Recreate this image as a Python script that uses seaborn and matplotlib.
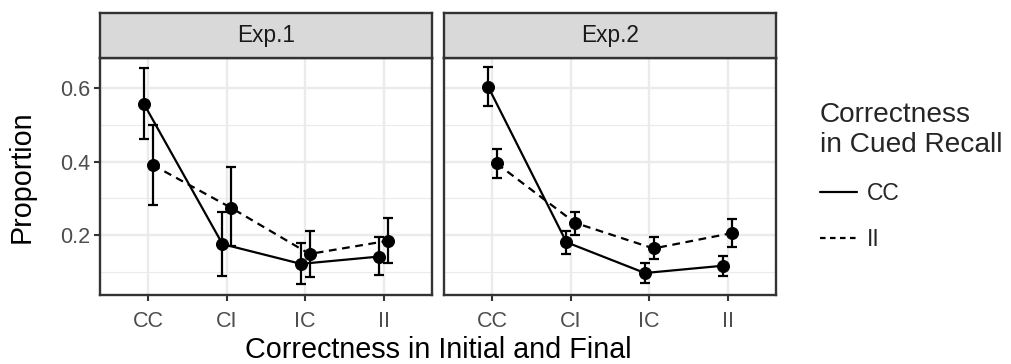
import numpy as np
import pandas as pd
import matplotlib
matplotlib.use("Agg")
import matplotlib.pyplot as plt
import seaborn as sns
from matplotlib.lines import Line2D

# ---------------- data ----------------
categories = ["CC", "CI", "IC", "II"]
experiments = ["Exp.1", "Exp.2"]
cued_levels = ["CC", "II"]

exp1_cc_mean = [0.557, 0.175, 0.121, 0.141]
exp1_cc_lo = [0.461, 0.088, 0.067, 0.090]
exp1_cc_hi = [0.656, 0.262, 0.179, 0.193]
exp1_ii_mean = [0.391, 0.274, 0.148, 0.184]
exp1_ii_lo = [0.282, 0.171, 0.084, 0.123]
exp1_ii_hi = [0.499, 0.386, 0.211, 0.245]

exp2_cc_mean = [0.605, 0.180, 0.096, 0.116]
exp2_cc_lo = [0.552, 0.148, 0.068, 0.088]
exp2_cc_hi = [0.658, 0.210, 0.122, 0.143]
exp2_ii_mean = [0.395, 0.233, 0.163, 0.205]
exp2_ii_lo = [0.356, 0.201, 0.134, 0.167]
exp2_ii_hi = [0.434, 0.263, 0.193, 0.243]

series = {
    ("Exp.1", "CC"): (exp1_cc_mean, exp1_cc_lo, exp1_cc_hi),
    ("Exp.1", "II"): (exp1_ii_mean, exp1_ii_lo, exp1_ii_hi),
    ("Exp.2", "CC"): (exp2_cc_mean, exp2_cc_lo, exp2_cc_hi),
    ("Exp.2", "II"): (exp2_ii_mean, exp2_ii_lo, exp2_ii_hi),
}

DODGE = 0.055
rows = []
for (exp, cued), (m, lo, hi) in series.items():
    off = -DODGE if cued == "CC" else DODGE
    for i, cat in enumerate(categories):
        rows.append(dict(exp=exp, cued=cued, final=cat, xpos=i + off,
                         prop=m[i], lo=lo[i], hi=hi[i]))
df = pd.DataFrame(rows)

# ---------------- style ----------------
sns.set_theme(style="white")
plt.rcParams["font.family"] = ["Liberation Sans", "DejaVu Sans"]

W, H = 1011, 364
fig = plt.figure(figsize=(W / 100, H / 100), dpi=100)

GRID = "#EBEBEB"
DARK = "#333333"
LW = 1.6

panel_left = [100, 444]
panel_w = 332
panel_top, panel_bot = 58, 295
strip_top = 13

for k, exp in enumerate(experiments):
    ax = fig.add_axes([panel_left[k] / W, (H - panel_bot) / H,
                       panel_w / W, (panel_bot - panel_top) / H])
    sub = df[df.exp == exp]
    for cued in cued_levels:
        s = sub[sub.cued == cued]
        ax.errorbar(s.xpos, s.prop, yerr=[s.prop - s.lo, s.hi - s.prop],
                    fmt="none", ecolor="black", elinewidth=LW,
                    capsize=3.6, capthick=LW, zorder=3)
    sns.lineplot(data=sub, x="xpos", y="prop", style="cued",
                 style_order=cued_levels,
                 dashes={"CC": "", "II": (3.5, 2.5)},
                 markers={"CC": "o", "II": "o"},
                 color="black", linewidth=LW, markersize=8.6,
                 markeredgecolor="black", errorbar=None, legend=False,
                 ax=ax, zorder=4)

    ax.set_xlim(-0.617, 3.617)
    ax.set_ylim(0.036, 0.683)
    ax.set_xticks(range(len(categories)))
    ax.set_xticklabels(categories)
    ax.set_yticks([0.2, 0.4, 0.6])
    ax.set_yticks([0.1, 0.3, 0.5], minor=True)
    ax.set_yticklabels(["0.2", "0.4", "0.6"])
    ax.set_xlabel("")
    ax.set_ylabel("")
    ax.grid(True, which="major", color=GRID, linewidth=1.7)
    ax.grid(True, which="minor", axis="y", color=GRID, linewidth=0.85)
    ax.set_axisbelow(True)
    ax.tick_params(axis="both", which="major", length=4, width=1.5,
                   color=DARK, labelcolor="#4D4D4D", labelsize=15.5,
                   bottom=True, left=True, pad=3)
    ax.tick_params(axis="x", pad=7.5)
    ax.tick_params(axis="y", which="minor", length=0)
    for sp in ax.spines.values():
        sp.set_color(DARK)
        sp.set_linewidth(1.7)
    if k == 1:
        ax.tick_params(axis="y", left=False, labelleft=False)

    # strip
    sax = fig.add_axes([panel_left[k] / W, (H - panel_top) / H,
                        panel_w / W, (panel_top - strip_top) / H])
    sax.set_facecolor("#D9D9D9")
    sax.set_xticks([])
    sax.set_yticks([])
    for sp in sax.spines.values():
        sp.set_color(DARK)
        sp.set_linewidth(1.7)
    sax.text(0.5, 0.5, exp, ha="center", va="center", fontsize=16.3,
             color="#1A1A1A", transform=sax.transAxes)

fig.text(22 / W, (H - 177) / H, "Proportion", rotation=90, ha="center",
         va="center", fontsize=20.7, color="black")
fig.text(438 / W, (H - 350.5) / H, "Correctness in Initial and Final",
         ha="center", va="center", fontsize=20.7, color="black")

handles = [Line2D([], [], color="black", linewidth=LW, linestyle="-"),
           Line2D([], [], color="black", linewidth=LW, dashes=(2.5, 2))]
leg = fig.legend(handles, cued_levels, title="Correctness\nin Cued Recall",
                 loc="upper left", bbox_to_anchor=(820 / W, (H - 102) / H),
                 frameon=False, alignment="left", fontsize=16.5,
                 title_fontsize=20.2, handlelength=1.6, handletextpad=0.45,
                 labelspacing=1.03, borderpad=0, borderaxespad=0)

fig.savefig("out.png", dpi=100)
